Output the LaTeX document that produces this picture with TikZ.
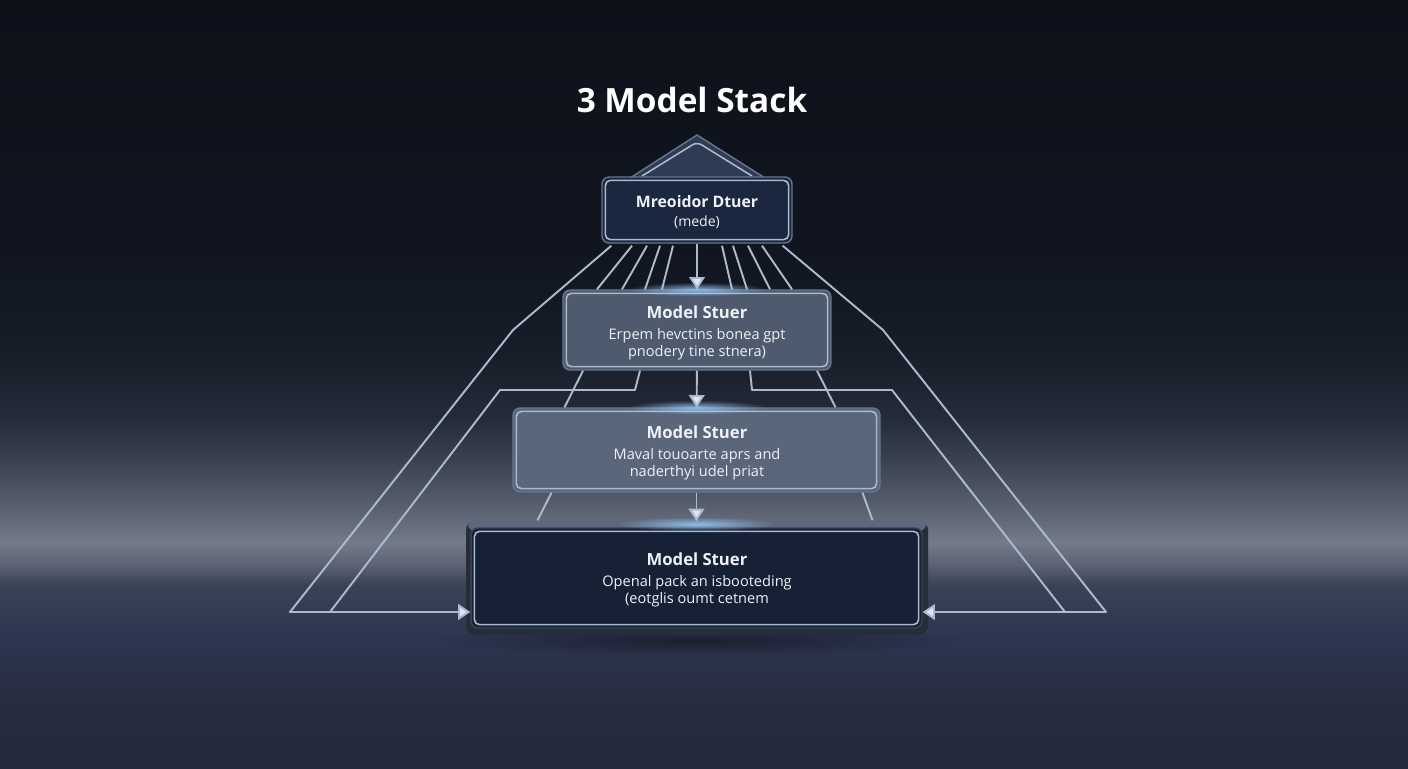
\documentclass[tikz,border=0pt]{standalone}
\usepackage{fontspec}
\setmainfont{Open Sans}
\usetikzlibrary{arrows.meta,calc,fadings}
\definecolor{bgA}{HTML}{232A3C}
\definecolor{bgB}{HTML}{262D40}
\definecolor{bgC}{HTML}{2D3550}
\definecolor{bgD}{HTML}{3A4256}
\definecolor{bgE}{HTML}{5A6273}
\definecolor{bgF}{HTML}{737B8B}
\definecolor{bgG}{HTML}{575F6F}
\definecolor{bgH}{HTML}{3A4150}
\definecolor{bgI}{HTML}{252C39}
\definecolor{bgJ}{HTML}{181E2A}
\definecolor{bgK}{HTML}{10151F}
\definecolor{bgL}{HTML}{0C111A}
\definecolor{wire}{HTML}{AEBACB}
\definecolor{tip}{HTML}{DCE5F2}
\definecolor{navy}{HTML}{1B273E}
\definecolor{glass}{HTML}{4E5A6D}
\definecolor{glasslow}{HTML}{5A6679}
\definecolor{rimout}{HTML}{66768F}
\definecolor{rimin}{HTML}{A9BACF}
\definecolor{lip}{HTML}{5E687C}
\definecolor{ink}{HTML}{EEF2F8}
\definecolor{glow}{HTML}{9CD0FF}
\pgfdeclareverticalshading{backdrop}{100bp}{color(0bp)=(bgA); color(25bp)=(bgA);
  color(29.43bp)=(bgB); color(33.33bp)=(bgC); color(36.91bp)=(bgD); color(38.22bp)=(bgE);
  color(39.71bp)=(bgF); color(42.12bp)=(bgG); color(45.05bp)=(bgH); color(47.66bp)=(bgI);
  color(51.56bp)=(bgJ); color(58.72bp)=(bgK); color(75bp)=(bgL); color(100bp)=(bgL)}
\tikzfading[name=softglow,inner color=transparent!0,outer color=transparent!100]

\begin{document}
\begin{tikzpicture}[x=0.02cm,y=-0.02cm,
  layer/.style={rounded corners=4pt,draw=rimout,line width=0.8pt,text=ink,align=center,inner sep=0pt},
  rim/.style={draw=rimin,line width=0.9pt,rounded corners=3pt},
  wireline/.style={draw=wire,line width=1.1pt,line join=round},
  arr/.style={wireline,-{Triangle[width=9pt,length=7pt,fill=tip]}},
  label/.style={text=ink,align=center,font=\fontsize{8.3}{9.6}\selectfont}]
  \useasboundingbox (0,0) rectangle (1408,768);
  \shade[shading=backdrop] (0,0) rectangle (1408,768);
  \node[text=white,font=\bfseries\fontsize{19}{22}\selectfont] (title) at (692,100) {3 Model Stack};
  % roof
  \filldraw[fill=navy!75!rimout,draw=rimout,line width=0.8pt] (630,178) -- (697,135) -- (765,178) -- cycle;
  \draw[rim] (642,176) -- (697,142) -- (752,176);
  % slab under the base layer
  \fill[black,opacity=0.4,path fading=softglow] (697,640) ellipse (260 and 16);
  \fill[bgJ!80!lip,rounded corners=5pt] (466,521) rectangle (928,635);
  \fill[lip,rounded corners=4pt] (468,520) rectangle (926,531);
  % layers
  \node[layer,fill=navy,minimum width=3.8cm,minimum height=1.32cm] (top) at (697,210) {};
  \node[layer,fill=glass,minimum width=5.36cm,minimum height=1.6cm] (mid) at (697,330) {};
  \node[layer,fill=glasslow,minimum width=7.34cm,minimum height=1.68cm] (low) at (696.5,450) {};
  \node[layer,fill=navy!85!black,draw=bgH,minimum width=9.02cm,minimum height=2cm] (bot) at (696.5,578) {};
  \foreach \n in {top,mid,low,bot}
    \draw[rim] ($(\n.south west)+(4,-4)$) rectangle ($(\n.north east)+(-4,4)$);
  % texts
  \node[label,font=\fontsize{8}{9.6}\selectfont] (toptext) at (697,212)
    {{\bfseries\fontsize{9}{10}\selectfont Mreoidor Dtuer}\\[1pt] (mede)};
  \node[label] (midtext) at (697,333)
    {{\bfseries\fontsize{9.5}{11}\selectfont Model Stuer}\\[2pt] Erpem hevctins bonea gpt\\ pnodery tine stnera)};
  \node[label] (lowtext) at (697,453)
    {{\bfseries\fontsize{9.5}{11}\selectfont Model Stuer}\\[2pt] Maval touoarte aprs and\\ naderthyi udel priat};
  \node[label] (bottext) at (697,580)
    {{\bfseries\fontsize{9.5}{11}\selectfont Model Stuer}\\[2pt] Openal pack an isbooteding\\ (eotglis oumt cetnem};
  % fan between top and mid
  \foreach \a/\b in {-65/-100,-50/-75,-37/-52,-24/-35,25/35,36/50,51/73,65/95}
    \draw[wireline] ($(top.south)+(\a,2)$) -- ($(mid.north)+(\b,0)$);
  \draw[wireline] ($(mid.south)+(-114,0)$) -- ($(low.north)+(-132,0)$);
  \draw[wireline] ($(mid.south)+(120,0)$) -- ($(low.north)+(139,0)$);
  \draw[wireline] ($(low.south)+(-145,0)$) -- ($(bot.north)+(-159,-7)$);
  \draw[wireline] ($(low.south)+(166,0)$) -- ($(bot.north)+(176,-7)$);
  % outer return paths
  \draw[arr] ($(top.south west)+(10,2)$) -- (513,330) -- (290,612) -- (bot.west |- 0,612);
  \draw[wireline] ($(mid.south)+(-57,0)$) -- (635,390) -- (500,390) -- (330,612);
  \draw[arr] ($(top.south east)+(-10,2)$) -- (883,330) -- (1106,612) -- (bot.east |- 0,612);
  \draw[wireline] ($(mid.south)+(53,0)$) -- (752,390) -- (892,390) -- (1065,612);
  % flow arrows
  \draw[arr] (top) -- (mid);
  \draw[arr] (mid) -- (low);
  \draw[arr] (low) -- (bot.north |- 0,521);
  \foreach \g in {mid,low}
    \fill[glow,opacity=0.8,path fading=softglow] (\g.north) ellipse (70 and 7);
  \fill[glow,opacity=0.8,path fading=softglow] (bot.north |- 0,524) ellipse (80 and 7);
\end{tikzpicture}
\end{document}
